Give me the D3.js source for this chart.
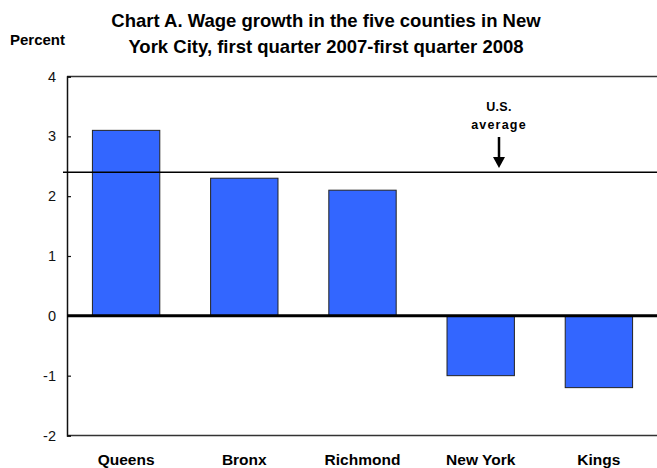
<!DOCTYPE html>
<html>
<head>
<meta charset="utf-8">
<script src="https://cdn.jsdelivr.net/npm/d3@7"></script>
<style>
  html, body { margin: 0; padding: 0; background: #fff; }
  svg { display: block; font-family: Arial, "Liberation Sans", sans-serif; }
</style>
</head>
<body>
<svg id="chart" width="657" height="468"></svg>
<script>
const categories = ["Queens", "Bronx", "Richmond", "New York", "Kings"];
const values = [3.1, 2.3, 2.1, -1.0, -1.2];
const usAverage = 2.4;
const yTicks = [-2, -1, 0, 1, 2, 3, 4];
const titleLines = ["Chart A. Wage growth in the five counties in New", "York City, first quarter 2007-first quarter 2008"];
const yLabel = "Percent";
const annotation = ["U.S.", "average"];

const svg = d3.select("#chart");
const plotLeft = 67, plotRight = 658, plotTop = 76.5, plotBottom = 435.5;

const x = d3.scaleBand().domain(categories).range([plotLeft, plotRight]).padding(0);
const y = d3.scaleLinear().domain([-2, 4]).range([plotBottom, plotTop]);
const barW = x.bandwidth() * 0.57;

// title
svg.append("g").selectAll("text").data(titleLines).join("text")
  .attr("x", 326).attr("y", (d, i) => 27 + i * 26)
  .attr("text-anchor", "middle").attr("font-weight", "bold").attr("font-size", 18.5)
  .attr("fill", "#000").text(d => d);

svg.append("text").attr("x", 10).attr("y", 45).attr("font-weight", "bold")
  .attr("font-size", 15).text(yLabel);

// frame top & bottom
svg.append("line").attr("x1", plotLeft).attr("x2", 657).attr("y1", y(4)).attr("y2", y(4))
  .attr("stroke", "#333").attr("stroke-width", 1.5);
svg.append("line").attr("x1", plotLeft).attr("x2", 657).attr("y1", y(-2)).attr("y2", y(-2))
  .attr("stroke", "#333").attr("stroke-width", 1.5);

// y axis
const yAxis = d3.axisLeft(y).tickValues(yTicks).tickSize(-4).tickPadding(11).tickFormat(d => String(d));
const ga = svg.append("g").attr("transform", `translate(${plotLeft},0)`).call(yAxis);
ga.select(".domain").attr("stroke", "#111").attr("stroke-width", 1.5);
ga.selectAll(".tick line").attr("stroke", "#111").attr("stroke-width", 1.2);
ga.selectAll(".tick text").attr("font-size", 14.5).attr("font-family", "Arial, 'Liberation Sans', sans-serif").attr("fill", "#111");

// bars
svg.append("g").selectAll("rect").data(categories).join("rect")
  .attr("x", d => x(d) + (x.bandwidth() - barW) / 2)
  .attr("y", (d, i) => y(Math.max(0, values[i])))
  .attr("width", barW)
  .attr("height", (d, i) => Math.abs(y(values[i]) - y(0)))
  .attr("fill", "#3366FF").attr("stroke", "#222").attr("stroke-width", 1);

// zero line
svg.append("line").attr("x1", plotLeft).attr("x2", 657).attr("y1", y(0)).attr("y2", y(0))
  .attr("stroke", "#000").attr("stroke-width", 3);

// US average line
svg.append("line").attr("x1", 63).attr("x2", 657).attr("y1", y(usAverage)).attr("y2", y(usAverage))
  .attr("stroke", "#000").attr("stroke-width", 1.5);

// annotation
const ax = 499;
svg.append("g").selectAll("text").data(annotation).join("text")
  .attr("x", ax).attr("y", (d, i) => 111 + i * 18)
  .attr("text-anchor", "middle").attr("font-weight", "bold").attr("font-size", 12.5)
  .attr("letter-spacing", (d, i) => i === 1 ? 1.2 : 0.3)
  .text(d => d);
svg.append("line").attr("x1", ax).attr("x2", ax).attr("y1", 137).attr("y2", 158)
  .attr("stroke", "#000").attr("stroke-width", 2.5);
svg.append("path").attr("d", `M${ax - 6},157 L${ax + 6},157 L${ax},168 Z`).attr("fill", "#000");

// x labels
svg.append("g").selectAll("text").data(categories).join("text")
  .attr("x", d => x(d) + x.bandwidth() / 2).attr("y", 465)
  .attr("text-anchor", "middle").attr("font-weight", "bold").attr("font-size", 15.5)
  .text(d => d);
</script>
</body>
</html>
